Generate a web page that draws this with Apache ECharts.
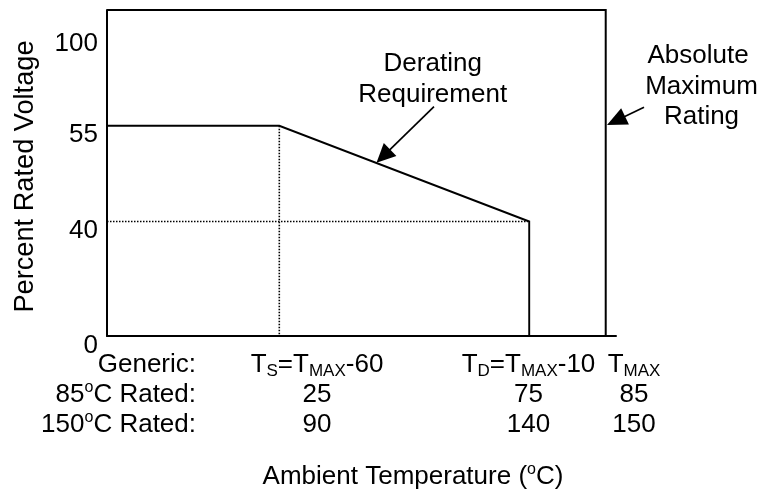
<!DOCTYPE html>
<html><head><meta charset="utf-8">
<script src="https://cdn.jsdelivr.net/npm/echarts@6/dist/echarts.min.js"></script>
<style>html,body{margin:0;padding:0;background:#fff}#chart{width:773px;height:492px}</style>
</head><body><div id="chart"></div>
<script>
// ---------------- data ----------------
const voltageTicks   = [0, 40, 55, 100];          // % rated voltage tick labels
const rated85Temps   = [25, 75, 85];              // 85 °C rated: Ts, Td, Tmax
const rated150Temps  = [90, 140, 150];            // 150 °C rated: Ts, Td, Tmax
const genericLabels  = ['T{sub|S}=T{sub|MAX}-60', 'T{sub|D}=T{sub|MAX}-10', 'T{sub|MAX}'];
const rowHeaders     = ['Generic:', '85{sup|o}C Rated:', '150{sup|o}C Rated:'];
const deratingTemp   = ['min', 25, 75, 75];       // 85 °C-rated temperatures
const deratingVoltage= [55, 55, 40, 0];
const absMaxTemp     = ['min', 85, 85];
const absMaxVoltage  = ['max', 'max', 0];
const guideTsTemp    = [25, 25];
const guideTsVoltage = [55, 0];
const guideTdTemp    = ['min', 75];
const guideTdVoltage = [40, 40];

// ---------------- layout (schematic, non-linear axes) ----------------
const FONT = '"Liberation Sans", Arial, sans-serif';
const voltageTickFrac = [0, 0.3512, 0.6448, 0.9258];
const tempTickFrac    = [0.3385, 0.8295, 0.9798];

function piecewise(v, ticks, fracs, lo, hi) {
  if (v === 'min') return lo;
  if (v === 'max') return hi;
  for (let i = 0; i < ticks.length - 1; i++) {
    if (v <= ticks[i + 1]) {
      const t = (v - ticks[i]) / (ticks[i + 1] - ticks[i]);
      return fracs[i] + t * (fracs[i + 1] - fracs[i]);
    }
  }
  return fracs[fracs.length - 1];
}
const yPos = v => piecewise(v, voltageTicks, voltageTickFrac, 0, 1);
const xPos = t => piecewise(t, rated85Temps, tempTickFrac, 0, 1);
const pts = (xs, ys) => xs.map((x, i) => [xPos(x), yPos(ys[i])]);

const rich = {
  sub: { fontFamily: FONT, fontSize: 17, lineHeight: 16, verticalAlign: 'bottom', fill: '#000' },
  sup: { fontFamily: FONT, fontSize: 16, lineHeight: 16, verticalAlign: 'top', fill: '#000' }
};
function txt(text, x, y, align, extra, size) {
  return Object.assign({
    type: 'text', x: x, y: y, silent: true,
    style: { text: text, x: 0, y: 0, fontFamily: FONT, fontSize: size || 26, lineHeight: 30,
             fill: '#000', align: align, verticalAlign: 'middle', rich: rich }
  }, extra || {});
}
function arrow(tail, tip, len, halfW) {
  const dx = tip[0] - tail[0], dy = tip[1] - tail[1];
  const L = Math.hypot(dx, dy), ux = dx / L, uy = dy / L;
  const bx = tip[0] - ux * len, by = tip[1] - uy * len;
  return [
    { type: 'line', silent: true, shape: { x1: tail[0], y1: tail[1], x2: bx + ux * 2, y2: by + uy * 2 },
      style: { stroke: '#000', lineWidth: 1.7 } },
    { type: 'polygon', silent: true,
      shape: { points: [tip, [bx - uy * halfW, by + ux * halfW], [bx + uy * halfW, by - ux * halfW]] },
      style: { fill: '#000' } }
  ];
}

const colX = [317, 528.5, 634];
const rowY = [364.5, 394.5, 424.5];
const graphics = [];
rowHeaders.forEach((h, i) => graphics.push(txt(h, 196, rowY[i], 'right')));
genericLabels.forEach((s, i) => graphics.push(txt(s, colX[i], rowY[0], 'center')));
rated85Temps.forEach((v, i) => graphics.push(txt(String(v), colX[i], rowY[1], 'center')));
rated150Temps.forEach((v, i) => graphics.push(txt(String(v), colX[i], rowY[2], 'center')));
graphics.push(txt('Ambient Temperature ({sup|o}C)', 413, 476.5, 'center'));
graphics.push(txt('Percent Rated Voltage', 26, 176.5, 'center', { rotation: Math.PI / 2 }, 27.2));
graphics.push(txt('Derating', 432.7, 63.8, 'center'));
graphics.push(txt('Requirement', 432.7, 94.7, 'center'));
graphics.push(txt('Absolute', 698, 55.7, 'center'));
graphics.push(txt('Maximum', 701.5, 86.5, 'center'));
graphics.push(txt('Rating', 701.5, 117, 'center'));
arrow([434, 106.7], [376.5, 162.8], 19, 9).forEach(g => graphics.push(g));
arrow([644, 107.3], [607, 125], 20, 9).forEach(g => graphics.push(g));

const solid = (w) => ({ color: '#000', width: w, type: 'solid', join: 'miter', cap: 'butt' });
const dotted = { color: '#000', width: 1.6, type: [1.5, 1.5] };

const chart = echarts.init(document.getElementById('chart'), null, { renderer: 'canvas' });
chart.setOption({
  animation: false,
  backgroundColor: '#fff',
  grid: { left: 107, right: 157, top: 10, bottom: 156, containLabel: false },
  xAxis: {
    type: 'value', min: 0, max: 1,
    axisLine: { show: true, lineStyle: { color: '#000', width: 2 } },
    axisTick: { show: false }, axisLabel: { show: false }, splitLine: { show: false }
  },
  yAxis: {
    type: 'value', min: 0, max: 1,
    axisLine: { show: true, lineStyle: { color: '#000', width: 2 } },
    axisTick: { show: false }, splitLine: { show: false },
    axisLabel: {
      customValues: voltageTicks.map(yPos),
      formatter: function (val) {
        const i = voltageTicks.findIndex(t => Math.abs(yPos(t) - val) < 1e-6);
        return i >= 0 ? String(voltageTicks[i]) : '';
      },
      fontFamily: FONT, fontSize: 26, color: '#000', margin: 9,
      verticalAlign: 'top', lineHeight: 19
    }
  },
  series: [
    { name: 'Ts guide', type: 'line', data: pts(guideTsTemp, guideTsVoltage), symbol: 'none',
      lineStyle: dotted, silent: true, clip: false, z: 1 },
    { name: 'Td guide', type: 'line', data: pts(guideTdTemp, guideTdVoltage), symbol: 'none',
      lineStyle: dotted, silent: true, clip: false, z: 1 },
    { name: 'Absolute Maximum Rating', type: 'line', data: pts(absMaxTemp, absMaxVoltage), symbol: 'none',
      lineStyle: solid(2), silent: true, clip: false, z: 3 },
    { name: 'Derating Requirement', type: 'line', data: pts(deratingTemp, deratingVoltage), symbol: 'none',
      lineStyle: solid(1.9), silent: true, clip: false, z: 3 }
  ],
  graphic: { elements: graphics }
});
</script></body></html>
